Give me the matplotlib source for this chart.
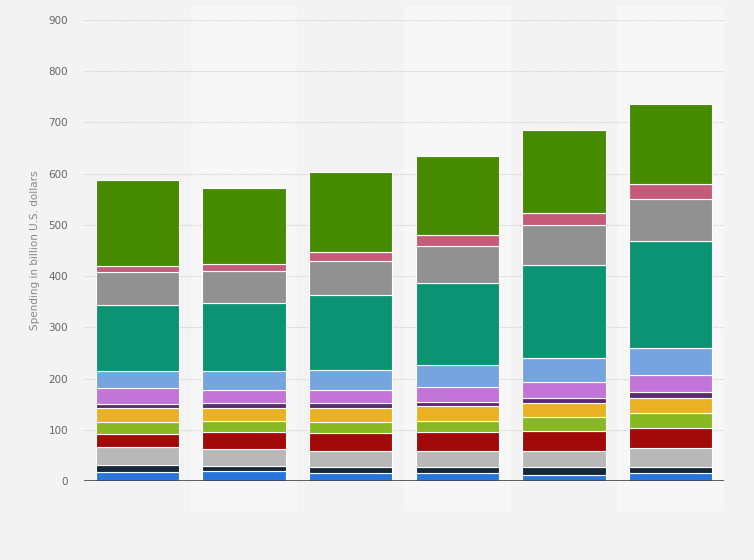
import numpy as np
import matplotlib
matplotlib.use('Agg')
import matplotlib.pyplot as plt

# six bars, no visible category labels in the source
bars = ['1', '2', '3', '4', '5', '6']

# stacked segments, bottom to top (billion U.S. dollars)
blue       = [17.5, 18.9, 14.7, 14.7, 12.6, 14.7]
navy       = [13.0, 11.0, 13.2, 11.8, 13.9, 13.2]
light_gray = [35.6, 33.5, 31.5, 32.9, 32.9, 35.6]
red        = [26.6, 31.5, 33.5, 35.6, 37.7, 40.5]
lime       = [23.0, 23.0, 23.0, 23.0, 27.9, 28.0]
yellow     = [26.6, 23.8, 25.9, 27.9, 26.5, 29.3]
dark_purple = [9.0, 9.8, 9.7, 9.1, 9.8, 11.9]
purple     = [30.0, 25.8, 25.2, 28.0, 31.4, 32.8]
light_blue = [32.8, 37.0, 39.1, 42.6, 47.5, 53.8]
teal       = [129.0, 132.7, 146.6, 160.6, 180.9, 208.1]
gray       = [64.0, 62.8, 67.1, 72.6, 78.9, 83.1]
pink       = [12.0, 13.3, 18.1, 20.9, 23.0, 27.9]
green      = [167.6, 149.4, 156.5, 155.1, 162.8, 157.8]

series = [blue, navy, light_gray, red, lime, yellow, dark_purple,
          purple, light_blue, teal, gray, pink, green]
colors = ['#2876dd', '#14283c', '#b8b8b8', '#a20a0a', '#88b923', '#e9b123',
          '#5c2a6e', '#c274d9', '#76a4e0', '#0a9474', '#919191', '#c55b79',
          '#468a00']

fig = plt.figure(figsize=(7.54, 5.6), dpi=100)
fig.patch.set_facecolor('#f3f3f3')
ax = fig.add_axes([84 / 754, 1 - 481 / 560, 640 / 754, 461 / 560])
ax.set_facecolor('#f3f3f3')

x = np.arange(len(bars))
ax.set_xlim(-0.5, len(bars) - 0.5)
ax.set_ylim(0, 900)

# alternating column bands
for i in x:
    if i % 2 == 1:
        ax.axvspan(i - 0.5, i + 0.5, ymin=-0.065, ymax=1.03, color='#f7f7f7',
                   zorder=0, clip_on=False, lw=0)

for yv in range(100, 1000, 100):
    ax.axhline(yv, color='#cfcfcf', lw=0.8, ls=(0, (1, 1)), zorder=1)

bottom = np.zeros(len(bars))
for vals, c in zip(series, colors):
    ax.bar(x, vals, width=0.78, bottom=bottom, color=c,
           edgecolor='#ffffff', linewidth=0.8, zorder=2)
    bottom += np.array(vals)

ax.axhline(0, color='#444444', lw=1.2, zorder=3)

ax.set_xticks([])
ax.set_yticks(range(0, 1000, 100))
ax.tick_params(axis='y', length=0, pad=11.5, labelsize=7.5, labelcolor='#666666')
for s in ax.spines.values():
    s.set_visible(False)

ax.set_ylabel('Spending in billion U.S. dollars', fontsize=7.5, color='#888888')
ax.yaxis.set_label_coords(-0.069, 0.5)

fig.savefig('out.png', dpi=100, facecolor=fig.get_facecolor())
